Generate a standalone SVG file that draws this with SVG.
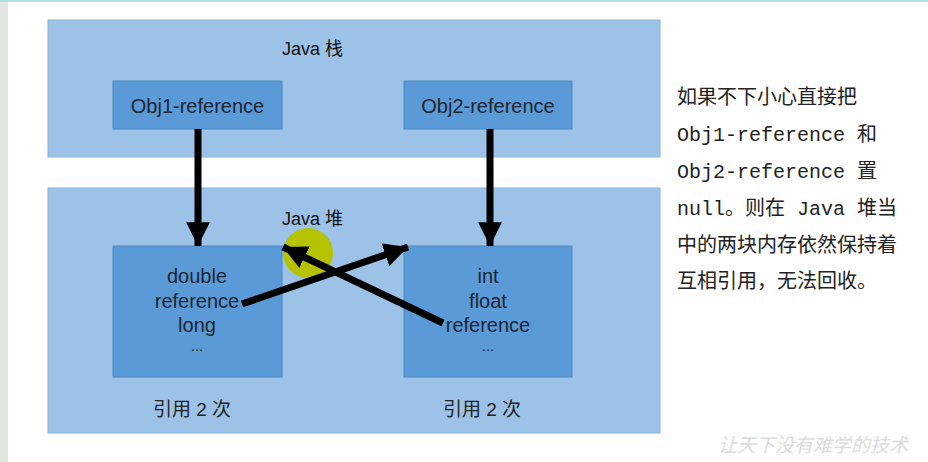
<svg xmlns="http://www.w3.org/2000/svg" width="928" height="462" viewBox="0 0 928 462">
<defs>
<style>
.panel{fill:#9cc2e8;stroke:#8db4dc;stroke-width:1}
.box{fill:#5a9ad6;stroke:#4a87c2;stroke-width:1}
.lbl{font-family:"Liberation Sans","Noto Sans CJK SC",sans-serif;font-size:20px;fill:#1c2633;text-anchor:middle}
.dots{font-family:"Liberation Sans",sans-serif;font-size:15px;fill:#1c2633;text-anchor:middle}
.title{font-family:"Liberation Sans","Noto Sans CJK SC",sans-serif;font-size:18px;fill:#111}
.cnt{font-family:"Liberation Sans","Noto Sans CJK SC",sans-serif;font-size:19px;fill:#222;text-anchor:middle}
.note{font-family:"Liberation Mono","Noto Sans CJK SC",monospace;font-size:20px;fill:#222}
.wm{font-family:"Noto Sans CJK SC",sans-serif;font-size:19px;fill:#dcdcdc;font-style:italic}
.arr{stroke:#000;stroke-width:7;fill:none}
</style>
<marker id="ah" viewBox="0 0 10 10" refX="10" refY="5" markerWidth="3.4" markerHeight="3.4" orient="auto" markerUnits="strokeWidth">
<path d="M0,0 L10,5 L0,10 z" fill="#000"/>
</marker>
</defs>
<rect x="0" y="0" width="928" height="462" fill="#fdfefd"/>
<rect x="0" y="0" width="928" height="2" fill="#a9e3e3"/>
<rect x="0" y="2" width="8" height="460" fill="#e4e6e4"/>

<g id="stack">
<rect class="panel" x="48" y="20" width="612" height="137"/>
<text class="title" x="282" y="55">Java 栈</text>
</g>
<g id="heap">
<rect class="panel" x="48" y="188" width="612" height="245"/>
<text class="title" x="282" y="225">Java 堆</text>
</g>
<g id="obj1ref">
<rect class="box" x="113" y="81" width="169" height="48"/>
<text class="lbl" x="197.5" y="113">Obj1-reference</text>
</g>
<g id="obj2ref">
<rect class="box" x="404" y="81" width="168" height="48"/>
<text class="lbl" x="488" y="113">Obj2-reference</text>
</g>
<g id="obj1">
<rect class="box" x="113" y="246" width="169" height="131"/>
<text class="lbl" x="197" y="283">double</text>
<text class="lbl" x="197" y="308">reference</text>
<text class="lbl" x="197" y="332">long</text>
<text class="dots" x="197" y="351">...</text>
<text class="cnt" x="192" y="416">引用 2 次</text>
</g>
<g id="obj2">
<rect class="box" x="404" y="246" width="168" height="131"/>
<text class="lbl" x="488" y="283">int</text>
<text class="lbl" x="488" y="308">float</text>
<text class="lbl" x="488" y="332">reference</text>
<text class="dots" x="488" y="351">...</text>
<text class="cnt" x="482" y="416">引用 2 次</text>
</g>
<circle cx="308" cy="253" r="25" fill="#b4c200"/>
<g id="connectors">
<line class="arr" x1="198" y1="129" x2="198" y2="246" marker-end="url(#ah)"/>
<line class="arr" x1="490" y1="129" x2="490" y2="246" marker-end="url(#ah)"/>
<line class="arr" x1="242" y1="304" x2="408" y2="247" marker-end="url(#ah)"/>
<line class="arr" x1="443" y1="323" x2="283" y2="247" marker-end="url(#ah)"/>
</g>
<g id="note">
<text class="note" x="677" y="104">如果不下小心直接把</text>
<text class="note" x="677" y="141" xml:space="preserve">Obj1-reference 和</text>
<text class="note" x="677" y="178" xml:space="preserve">Obj2-reference 置</text>
<text class="note" x="677" y="215" xml:space="preserve">null。则在 Java 堆当</text>
<text class="note" x="677" y="252">中的两块内存依然保持着</text>
<text class="note" x="677" y="288">互相引用，无法回收。</text>
</g>
<text class="wm" x="718" y="452">让天下没有难学的技术</text>
</svg>
